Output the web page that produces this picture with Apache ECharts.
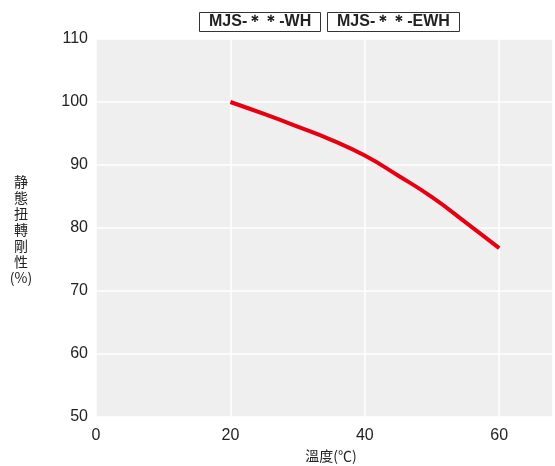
<!DOCTYPE html>
<html><head><meta charset="utf-8">
<script src="https://cdn.jsdelivr.net/npm/echarts@6/dist/echarts.min.js"></script>
<style>html,body{margin:0;padding:0;background:#fff}#c{width:555px;height:466px}</style>
</head><body><div id="c"></div>
<script>
const temps = [20, 25, 30, 35, 40, 45, 50, 55, 60];
const stiffness = [100, 98.1, 96.1, 94.0, 91.5, 88.3, 84.9, 80.9, 76.8];
const xTicks = [0, 20, 40, 60];
const yTicks = [50, 60, 70, 80, 90, 100, 110];
const legendLabels = ['MJS-＊＊-WH', 'MJS-＊＊-EWH'];
const yName = '静\n態\n扭\n轉\n剛\n性\n(%)';
const xName = '溫度(℃)';

const chart = echarts.init(document.getElementById('c'), null, {renderer: 'canvas'});
const boxTitle = (text, left) => ({
  text: text, left: left, top: 12,
  padding: [1, 10, 1, 10],
  borderColor: '#333', borderWidth: 1,
  textStyle: {fontFamily: 'Liberation Sans, Arial', fontWeight: 'bold', fontSize: 16, color: '#222', lineHeight: 18}
});
chart.setOption({
  animation: false,
  title: [boxTitle(legendLabels[0], 199), boxTitle(legendLabels[1], 327)],
  grid: {left: 96, right: 2, top: 39, bottom: 49, show: true, backgroundColor: '#efefef', borderWidth: 0},
  xAxis: {
    type: 'value', min: 0, max: 68, interval: 20,
    axisLine: {show: false}, axisTick: {show: false},
    splitLine: {show: true, lineStyle: {color: '#ffffff', width: 1.5}},
    axisLabel: {margin: 11, fontSize: 16, color: '#222', fontFamily: 'Liberation Sans, Arial', showMaxLabel: false,
      formatter: v => xTicks.includes(v) ? String(v) : ''}
  },
  yAxis: {
    type: 'value', min: 50, max: 110, interval: 10,
    axisLine: {show: false}, axisTick: {show: false},
    splitLine: {show: true, lineStyle: {color: '#ffffff', width: 1.5}},
    axisLabel: {margin: 8, fontSize: 16, color: '#222', fontFamily: 'Liberation Sans, Arial',
      formatter: v => yTicks.includes(v) ? String(v) : ''}
  },
  graphic: [
    {type: 'text', x: 21, y: 174, style: {text: yName, fontSize: 14, lineHeight: 16, fill: '#222', align: 'center', fontFamily: 'Noto Sans CJK JP'}},
    {type: 'text', x: 331, y: 449, style: {text: xName, fontSize: 14, fill: '#222', align: 'center', fontFamily: 'Noto Sans CJK TC'}}
  ],
  series: [{
    type: 'line', data: temps.map((t, i) => [t, stiffness[i]]),
    smooth: true, showSymbol: false,
    lineStyle: {color: '#e60012', width: 4}
  }]
});
</script></body></html>
